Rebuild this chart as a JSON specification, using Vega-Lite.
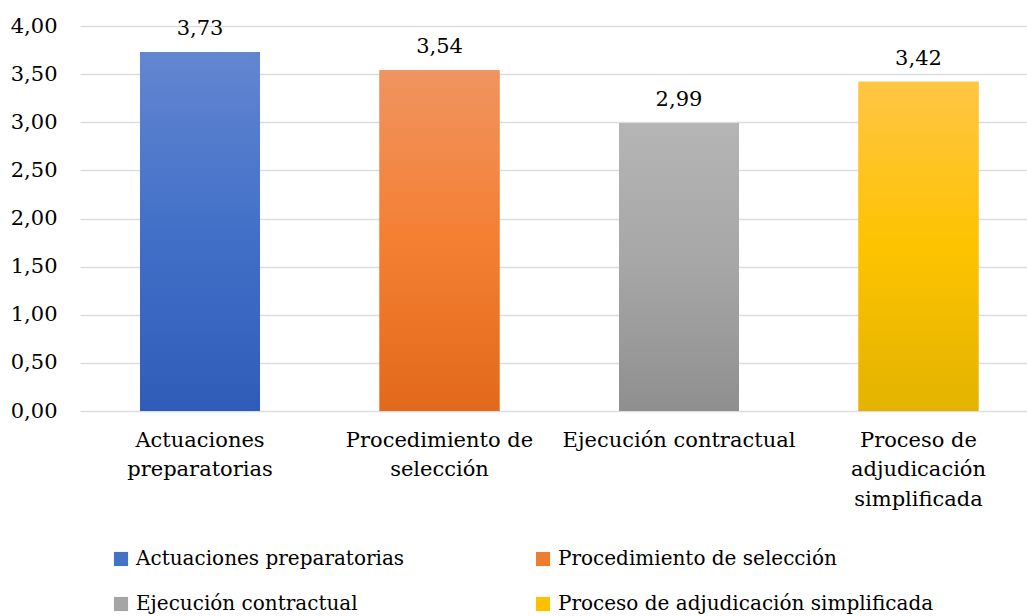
{
  "$schema": "https://vega.github.io/schema/vega-lite/v6.json",
  "autosize": {"type": "none"},
  "width": 947,
  "height": 385,
  "padding": {"left": 80, "top": 26, "right": 0, "bottom": 205},
  "background": "white",
  "config": {
    "view": {"stroke": null},
    "font": "DejaVu Serif",
    "locale": {"number": {"decimal": ",", "thousands": ".", "grouping": [3], "currency": ["", " €"]}}
  },
  "data": {
    "values": [
      {"categoria": "Actuaciones preparatorias", "valor": 3.73},
      {"categoria": "Procedimiento de selección", "valor": 3.54},
      {"categoria": "Ejecución contractual", "valor": 2.99},
      {"categoria": "Proceso de adjudicación simplificada", "valor": 3.42}
    ]
  },
  "encoding": {
    "x": {
      "field": "categoria",
      "type": "nominal",
      "sort": null,
      "scale": {"paddingInner": 0.499, "paddingOuter": 0.2266, "align": 0.553},
      "axis": {
        "title": null,
        "labelAngle": 0,
        "labelFontSize": 21,
        "labelColor": "#000000",
        "labelFont": "DejaVu Serif",
        "labelPadding": 18,
        "labelLineHeight": 29.5,
        "labelLimit": 400,
        "labelBaseline": "top",
        "ticks": false,
        "domain": false,
        "labelExpr": "datum.label == 'Actuaciones preparatorias' ? ['Actuaciones', 'preparatorias'] : datum.label == 'Procedimiento de selección' ? ['Procedimiento de', 'selección'] : datum.label == 'Proceso de adjudicación simplificada' ? ['Proceso de', 'adjudicación', 'simplificada'] : datum.label"
      }
    },
    "y": {
      "field": "valor",
      "type": "quantitative",
      "scale": {"domain": [0, 4]},
      "axis": {
        "title": null,
        "values": [0, 0.5, 1, 1.5, 2, 2.5, 3, 3.5, 4],
        "labelExpr": "replace(format(datum.value, '.2f'), '.', ',')",
        "labelFontSize": 21,
        "labelColor": "#000000",
        "labelFont": "DejaVu Serif",
        "labelPadding": 23,
        "ticks": false,
        "domain": false,
        "grid": true,
        "gridColor": "#d9dde3",
        "gridWidth": 1.5
      }
    }
  },
  "layer": [
    {
      "mark": {"type": "bar"},
      "encoding": {
        "color": {
          "field": "categoria",
          "type": "nominal",
          "sort": null,
          "scale": {
            "domain": ["Actuaciones preparatorias", "Procedimiento de selección", "Ejecución contractual", "Proceso de adjudicación simplificada"],
            "range": ["#4472c4", "#ed7d31", "#a5a5a5", "#ffc000"]
          },
          "legend": {
            "title": null,
            "orient": "none",
            "legendX": 31,
            "legendY": 523,
            "columns": 2,
            "direction": "horizontal",
            "symbolType": "square",
            "symbolSize": 200,
            "symbolStrokeWidth": 0,
            "labelFontSize": 20,
            "labelFont": "DejaVu Serif",
            "labelColor": "#000000",
            "labelOffset": 5,
            "labelLimit": 500,
            "columnPadding": 128,
            "rowPadding": 25
          }
        }
      }
    },
    {
      "transform": [{"filter": "datum.categoria == 'Actuaciones preparatorias'"}],
      "mark": {"type": "bar", "color": {"gradient": "linear", "x1": 0, "y1": 0, "x2": 0, "y2": 1, "stops": [{"offset": 0, "color": "#6386d0"}, {"offset": 0.5, "color": "#4270c8"}, {"offset": 1, "color": "#2e5cb8"}]}}
    },
    {
      "transform": [{"filter": "datum.categoria == 'Procedimiento de selección'"}],
      "mark": {"type": "bar", "color": {"gradient": "linear", "x1": 0, "y1": 0, "x2": 0, "y2": 1, "stops": [{"offset": 0, "color": "#f09460"}, {"offset": 0.5, "color": "#f47f32"}, {"offset": 1, "color": "#e2691b"}]}}
    },
    {
      "transform": [{"filter": "datum.categoria == 'Ejecución contractual'"}],
      "mark": {"type": "bar", "color": {"gradient": "linear", "x1": 0, "y1": 0, "x2": 0, "y2": 1, "stops": [{"offset": 0, "color": "#b5b5b5"}, {"offset": 0.5, "color": "#a6a6a6"}, {"offset": 1, "color": "#8f8f8f"}]}}
    },
    {
      "transform": [{"filter": "datum.categoria == 'Proceso de adjudicación simplificada'"}],
      "mark": {"type": "bar", "color": {"gradient": "linear", "x1": 0, "y1": 0, "x2": 0, "y2": 1, "stops": [{"offset": 0, "color": "#ffc545"}, {"offset": 0.5, "color": "#fdc300"}, {"offset": 1, "color": "#e3b300"}]}}
    },
    {
      "mark": {"type": "text", "baseline": "alphabetic", "dy": -17, "fontSize": 21, "font": "DejaVu Serif", "color": "#000000"},
      "encoding": {
        "text": {"field": "valor", "type": "quantitative", "format": ".2f"}
      }
    }
  ]
}
